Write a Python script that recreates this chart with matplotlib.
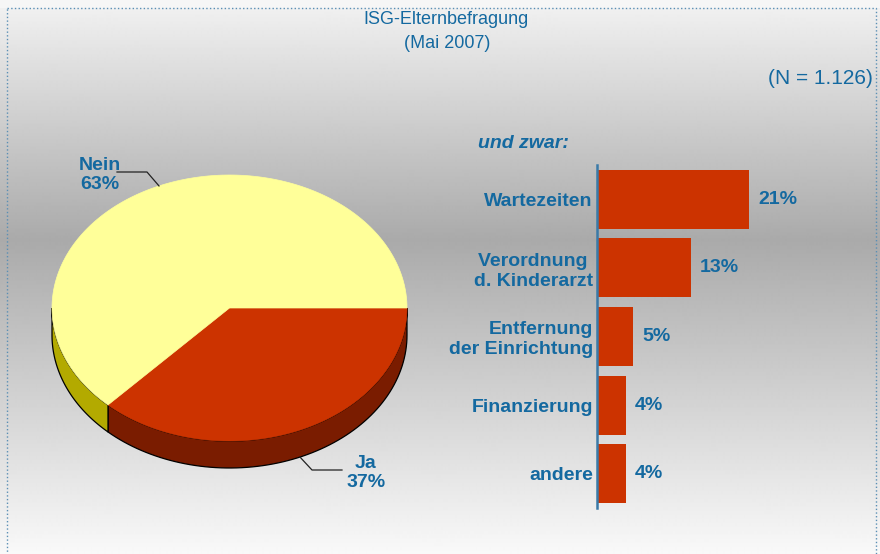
import numpy as np
import matplotlib
matplotlib.use("Agg")
import matplotlib.pyplot as plt
from matplotlib.patches import Polygon, Rectangle

# data
pie_labels = ["Ja", "Nein"]
pie_values = [37, 63]
bar_labels = ["Wartezeiten", "Verordnung \nd. Kinderarzt", "Entfernung\nder Einrichtung",
              "Finanzierung", "andere"]
bar_values = [21, 13, 5, 4, 4]

BLUE = "#1469a0"
plt.rcParams["font.family"] = ["Liberation Sans", "DejaVu Sans"]

fig = plt.figure(figsize=(8.8, 5.54), dpi=100, facecolor="#f6f6f6")
bg = fig.add_axes([0, 0, 1, 1])
bg.axis("off")

# grey gradient background
ys = np.arange(8, 554)
shade = np.interp(ys, [8, 240, 554], [240, 170, 249]) / 255
grad = np.repeat(shade[:, None], 2, axis=1)
bg.imshow(grad, cmap="gray", vmin=0, vmax=1, extent=(0, 880, 554, 8),
          aspect="auto", interpolation="bilinear", zorder=0)
bg.add_patch(Rectangle((7, 8), 869, 560, fill=False, ls=":", ec="#5a8fb5", lw=1, zorder=1))
bg.set_xlim(0, 880)
bg.set_ylim(554, 0)

# 3d pie, drawn by hand on pixel coords
cx, cy, rx, ry, depth = 229.5, 308, 177.5, 133, 27
top_colors = {"Ja": "#cc3300", "Nein": "#ffff99"}
side_colors = {"Ja": "#7a1c00", "Nein": "#b3aa00"}

def ell(th, dy=0):
    t = np.radians(th)
    return np.column_stack([cx + rx * np.cos(t), cy - ry * np.sin(t) + dy])

angles = -np.cumsum([0] + pie_values) / sum(pie_values) * 360
mids = {}
for i, lab in enumerate(pie_labels):
    a1, a2 = angles[i], angles[i + 1]
    mids[lab] = (a1 + a2) / 2
    # side wall (only front half visible)
    lo, hi = max(a2, -180), min(a1, 0)
    if hi > lo:
        th = np.linspace(lo, hi, 80)
        pts = np.vstack([ell(th), ell(th[::-1], depth)])
        bg.add_patch(Polygon(pts, closed=True, fc=side_colors[lab], ec="black", lw=0.9, zorder=2))
for i, lab in enumerate(pie_labels):
    a1, a2 = angles[i], angles[i + 1]
    th = np.linspace(a1, a2, 200)
    pts = np.vstack([[cx, cy], ell(th)])
    bg.add_patch(Polygon(pts, closed=True, fc=top_colors[lab], ec=top_colors[lab], lw=0.5, zorder=3))

# leader lines + labels
nein_pt = ell(mids["Nein"])[0]
bg.plot([117, 147, nein_pt[0]], [172, 172, nein_pt[1]], color="#222222", lw=0.9, zorder=4)
bg.text(100, 175, "Nein\n63%", ha="center", va="center", fontsize=14, fontweight="bold",
        color=BLUE, linespacing=1.15)
ja_pt = ell(mids["Ja"], depth)[0]
bg.plot([ja_pt[0], 312, 342], [ja_pt[1], 470, 470], color="#222222", lw=0.9, zorder=4)
bg.text(366, 473, "Ja\n37%", ha="center", va="center", fontsize=14, fontweight="bold",
        color=BLUE, linespacing=1.15)

# titles
bg.text(446, 20, "ISG-Elternbefragung", ha="center", va="center", fontsize=13, color=BLUE)
bg.text(447, 43, "(Mai 2007)", ha="center", va="center", fontsize=13, color=BLUE)
bg.text(873, 78, "(N = 1.126)", ha="right", va="center", fontsize=15, color=BLUE)
bg.text(478, 143, "und zwar:", ha="left", va="center", fontsize=14, fontweight="bold",
        fontstyle="italic", color=BLUE)

# bar chart
ax = fig.add_axes([597 / 880, (554 - 508) / 554, 217 / 880, 343 / 554])
bars = ax.barh(range(len(bar_values)), bar_values, height=0.86, color="#cc3300")
ax.set_xlim(0, 30)
ax.set_ylim(len(bar_values) - 0.5, -0.5)
ax.patch.set_visible(False)
for s in ["top", "right", "bottom"]:
    ax.spines[s].set_visible(False)
ax.spines["left"].set_color("#3a7aa8")
ax.spines["left"].set_linewidth(1.8)
ax.set_xticks([])
ax.set_yticks(range(len(bar_labels)), bar_labels)
ax.tick_params(axis="y", length=0, pad=3, labelsize=14, labelcolor=BLUE)
for t in ax.get_yticklabels():
    t.set_fontweight("bold")
ax.bar_label(bars, labels=[f"{v}%" for v in bar_values], padding=6.5, fontsize=14,
             fontweight="bold", color=BLUE)

fig.savefig("out.png", dpi=100, facecolor=fig.get_facecolor())
